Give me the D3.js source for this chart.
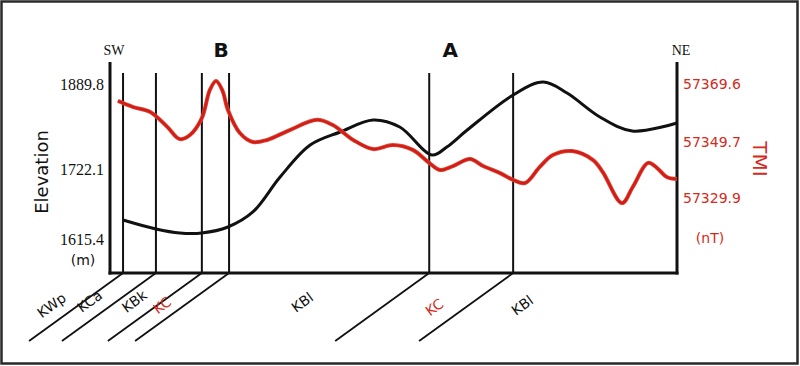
<!DOCTYPE html>
<html>
<head>
<meta charset="utf-8">
<script src="https://cdn.jsdelivr.net/npm/d3@7/dist/d3.min.js"></script>
<style>
html,body{margin:0;padding:0;background:#fff;}
svg{display:block;}
</style>
</head>
<body>
<svg id="chart" width="800" height="366"></svg>
<script>
// ---- Data ----
// distance along profile (0 = SW, 100 = NE, % of profile)
const elevDist = [2.3, 8.1, 12.3, 16.2, 20.8, 25.2, 30.0, 35.3, 40.6, 46.4, 51.1, 56.8, 59.4, 63.0, 71.1, 76.4, 80.6, 86.4, 92.1, 100];
const elevValues = [1644.4, 1630.7, 1624.6, 1624.6, 1633.7, 1656.6, 1709.9, 1769.4, 1795.1, 1818.8, 1805.0, 1749.7, 1765.5, 1799.0, 1868.1, 1893.7, 1872.1, 1824.7, 1797.1, 1812.9];

const tmiDist = [1.4, 4.1, 7.1, 10.1, 12.3, 14.1, 16.2, 17.6, 18.7, 19.8, 20.8, 22.9, 25.2, 27.7, 31.7, 36.5, 39.3, 42.9, 46.4, 49.9, 53.4, 56.3, 58.2, 60.5, 63.5, 65.8, 68.8, 71.1, 73.2, 75.8, 78.1, 81.5, 85.2, 86.9, 90.3, 92.2, 94.9, 96.5, 98.2, 100];
const tmiValues = [57363.8, 57361.7, 57360.0, 57354.9, 57350.7, 57352.1, 57357.9, 57367.5, 57370.6, 57367.5, 57360.7, 57352.8, 57349.7, 57350.4, 57353.8, 57357.3, 57355.5, 57350.4, 57347.2, 57348.6, 57346.9, 57342.3, 57339.8, 57341.2, 57343.7, 57341.2, 57338.7, 57336.3, 57335.2, 57340.9, 57345.1, 57346.5, 57343.3, 57339.1, 57328.1, 57333.8, 57342.3, 57340.5, 57337.3, 57336.6];

const elevTicks = [1889.8, 1722.1, 1615.4];
const tmiTicks = [57369.6, 57349.7, 57329.9];

// geological contacts (distance along profile)
const contacts = [2.3, 8.1, 16.2, 21.0, 56.3, 71.1];
const unitLabels = ["KWp", "KCa", "KBk", "KC", "KBl", "KC", "KBl"];
const unitLabelDist = [-10.2, -3.5, 4.4, 9.3, 34.0, 57.3, 72.8];
const unitColors = ["#111", "#111", "#111", "#d42a20", "#111", "#d42a20", "#111"];

const stations = ["B", "A"];
const stationDist = [19.6, 60.0];

// ---- Layout ----
const svg = d3.select("#chart");
const X0 = 110, X1 = 677, YTOP = 62, YBOT = 273, LINE_TOP = 73;
const red = "#d42a20";
const unitLabelY = [306, 302, 302, 306, 303, 308, 306];

const x = d3.scaleLinear().domain([0, 100]).range([X0, X1]);
// Elevation axis labels are not evenly spaced in the original: piecewise scale
const yElev = d3.scaleLinear().domain([1615.4, 1722.1, 1889.8]).range([239, 169, 84]);
const yTmi = d3.scaleLinear().domain([57329.9, 57349.7, 57369.6]).range([198, 142, 84]);

// frame
svg.append("rect").attr("x", 1.5).attr("y", 1.5).attr("width", 796).attr("height", 362)
  .attr("fill", "none").attr("stroke", "#2a2a2a").attr("stroke-width", 2.5);

// contact vertical lines
svg.append("g").selectAll("line").data(contacts).join("line")
  .attr("x1", d => x(d)).attr("x2", d => x(d))
  .attr("y1", LINE_TOP).attr("y2", YBOT)
  .attr("stroke", "#111").attr("stroke-width", 2);

// diagonal contact lines below
const dxDiag = -94, dyDiag = 68;
svg.append("g").selectAll("line").data(contacts).join("line")
  .attr("x1", d => x(d)).attr("y1", YBOT)
  .attr("x2", d => x(d) + dxDiag).attr("y2", YBOT + dyDiag)
  .attr("stroke", "#111").attr("stroke-width", 1.8);

// unit labels
svg.append("g").selectAll("text").data(unitLabels).join("text")
  .attr("transform", (d, i) => `translate(${x(unitLabelDist[i])},${unitLabelY[i]}) rotate(-36)`)
  .attr("text-anchor", "middle").attr("dominant-baseline", "middle")
  .attr("font-family", "DejaVu Sans, sans-serif").attr("font-size", 14)
  .attr("fill", (d, i) => unitColors[i])
  .text(d => d);

// axes
const axisL = d3.axisLeft(yElev).tickValues(elevTicks).tickSize(0).tickPadding(4).tickFormat(d3.format(".1f"));
const gL = svg.append("g").attr("transform", `translate(${X0},0)`).call(axisL);
gL.select(".domain").remove();
gL.selectAll("text").attr("font-family", "Liberation Serif, serif").attr("font-size", 16).attr("fill", "#111")
  .attr("dx", -2);

const axisR = d3.axisRight(yTmi).tickValues(tmiTicks).tickSize(0).tickPadding(6).tickFormat(d3.format(".1f"));
const gR = svg.append("g").attr("transform", `translate(${X1},0)`).call(axisR);
gR.select(".domain").remove();
gR.selectAll("text").attr("font-family", "DejaVu Sans, sans-serif").attr("font-size", 14).attr("fill", red);

svg.append("line").attr("x1", X0).attr("x2", X0).attr("y1", YTOP).attr("y2", YBOT + 1.5)
  .attr("stroke", "#111").attr("stroke-width", 3);
svg.append("line").attr("x1", X1).attr("x2", X1).attr("y1", YTOP).attr("y2", YBOT + 1.5)
  .attr("stroke", "#111").attr("stroke-width", 3);
svg.append("line").attr("x1", X0 - 1.5).attr("x2", X1 + 1.5).attr("y1", YBOT).attr("y2", YBOT)
  .attr("stroke", "#111").attr("stroke-width", 3);

// curves
const lineElev = d3.line().x((d, i) => x(elevDist[i])).y(d => yElev(d)).curve(d3.curveCatmullRom.alpha(0.5));
svg.append("path").datum(elevValues).attr("d", lineElev)
  .attr("fill", "none").attr("stroke", "#111").attr("stroke-width", 3).attr("stroke-linejoin", "round");

const lineTmi = d3.line().x((d, i) => x(tmiDist[i])).y(d => yTmi(d)).curve(d3.curveCatmullRom.alpha(0.5));
svg.append("path").datum(tmiValues).attr("d", lineTmi)
  .attr("fill", "none").attr("stroke", "#e0463c").attr("stroke-width", 4).attr("stroke-linejoin", "round");
svg.append("path").datum(tmiValues).attr("d", lineTmi)
  .attr("fill", "none").attr("stroke", "#d01e14").attr("stroke-width", 2.4).attr("stroke-linejoin", "round");

// axis titles
svg.append("text").attr("transform", "translate(48,172) rotate(-90)")
  .attr("text-anchor", "middle").attr("font-family", "DejaVu Sans, sans-serif").attr("font-size", 18)
  .attr("fill", "#111").text("Elevation");
svg.append("text").attr("x", 83).attr("y", 265).attr("text-anchor", "middle")
  .attr("font-family", "DejaVu Sans, sans-serif").attr("font-size", 14).attr("fill", "#111").text("(m)");
svg.append("text").attr("transform", "translate(753,159) rotate(90)")
  .attr("text-anchor", "middle").attr("font-family", "DejaVu Sans, sans-serif").attr("font-size", 20)
  .attr("fill", red).text("TMI");
svg.append("text").attr("x", 710).attr("y", 243).attr("text-anchor", "middle")
  .attr("font-family", "DejaVu Sans, sans-serif").attr("font-size", 14).attr("fill", red).text("(nT)");

// direction labels
svg.append("text").attr("x", 114).attr("y", 55).attr("text-anchor", "middle")
  .attr("font-family", "Liberation Serif, serif").attr("font-size", 14).attr("fill", "#111").text("SW");
svg.append("text").attr("x", 681).attr("y", 55).attr("text-anchor", "middle")
  .attr("font-family", "Liberation Serif, serif").attr("font-size", 14).attr("fill", "#111").text("NE");

// station labels
svg.append("g").selectAll("text").data(stations).join("text")
  .attr("x", (d, i) => x(stationDist[i])).attr("y", 57).attr("text-anchor", "middle")
  .attr("font-family", "DejaVu Sans, sans-serif").attr("font-weight", "bold").attr("font-size", 20)
  .attr("fill", "#111").text(d => d);
</script>
</body>
</html>
